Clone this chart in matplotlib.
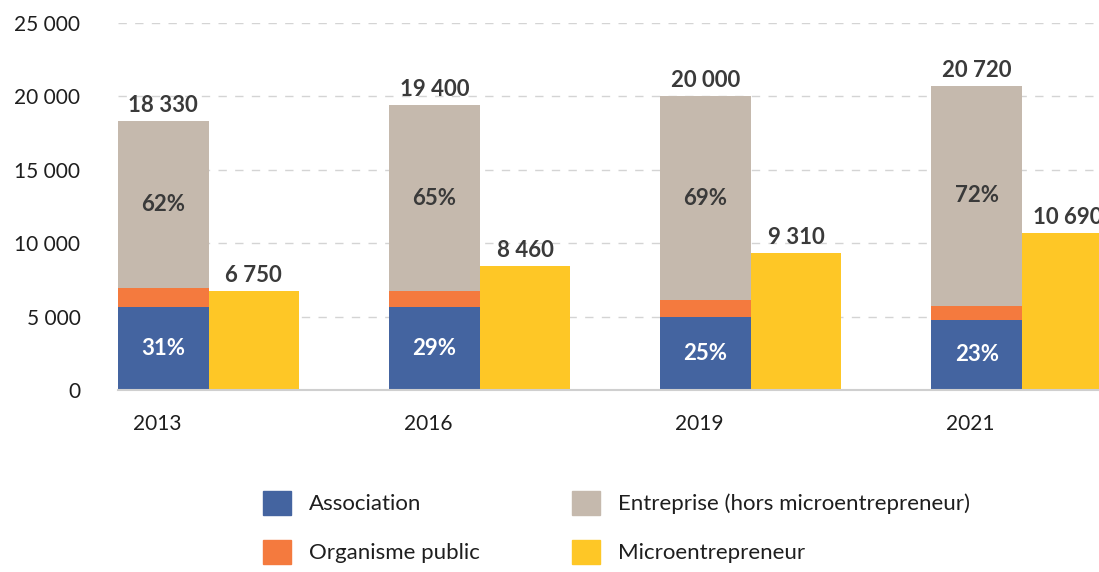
import numpy as np
import matplotlib.pyplot as plt
from matplotlib.patches import Patch

# Données
annees = ['2013', '2016', '2019', '2021']
association = [5680, 5630, 5000, 4770]
organisme_public = [1300, 1100, 1100, 960]
entreprise = [11350, 12670, 13900, 14990]
micro = [6750, 8460, 9310, 10690]
totaux = [18330, 19400, 20000, 20720]
pct_association = [31, 29, 25, 23]
pct_entreprise = [62, 65, 69, 72]

c_asso = '#4464a0'
c_public = '#f47a3e'
c_entr = '#c5b9ad'
c_micro = '#fec726'
c_texte = '#3a3a3a'


def fmt(v):
    return f"{v:,}".replace(",", " ")


plt.rcParams['font.family'] = ['Lato', 'DejaVu Sans']

W, H = 1099, 572
fig = plt.figure(figsize=(W / 100, H / 100), dpi=100)
ax = fig.add_axes([118 / W, 1 - 390 / H, 1 - 118 / W, (390 - 23) / H])

x = np.arange(len(annees))
w = 0.334
xs = x - w / 2
xm = x + w / 2
bas2 = np.array(association) + np.array(organisme_public)

ax.bar(xs, association, w, color=c_asso, zorder=2)
ax.bar(xs, organisme_public, w, bottom=association, color=c_public, zorder=2)
ax.bar(xs, entreprise, w, bottom=bas2, color=c_entr, zorder=2)
ax.bar(xm, micro, w, color=c_micro, zorder=2)

# étiquettes
for i in range(len(annees)):
    ax.annotate(fmt(totaux[i]), (xs[i], totaux[i]), xytext=(0, 6.5),
                textcoords='offset points', ha='center', va='baseline',
                fontsize=16, fontweight='bold', color=c_texte, clip_on=False)
    ax.annotate(fmt(micro[i]), (xm[i], micro[i]), xytext=(0, 6.5),
                textcoords='offset points', ha='center', va='baseline',
                fontsize=16, fontweight='bold', color=c_texte, clip_on=False)
    ax.text(xs[i], association[i] / 2, f"{pct_association[i]}%", ha='center',
            va='center', fontsize=16, fontweight='bold', color='white')
    ax.text(xs[i], bas2[i] + entreprise[i] / 2, f"{pct_entreprise[i]}%",
            ha='center', va='center', fontsize=16, fontweight='bold',
            color=c_texte)

ax.set_xlim(-w, 3.284)
ax.set_ylim(0, 25000)
ax.set_yticks(range(0, 25001, 5000))
ax.set_yticklabels([fmt(v) for v in range(0, 25001, 5000)])
ax.set_xticks(xs - 0.022)
ax.set_xticklabels(annees)
ax.tick_params(axis='y', length=0, pad=27, labelsize=15, colors='#1e1e1e')
ax.tick_params(axis='x', length=0, pad=17, labelsize=15, colors='#1e1e1e')

ax.grid(axis='y', color='#d4d4d4', linestyle=(0, (6, 6)), linewidth=1, zorder=0)
for s in ['top', 'right', 'left']:
    ax.spines[s].set_visible(False)
ax.spines['bottom'].set_color('#cfcfcf')
ax.spines['bottom'].set_linewidth(1.5)

# légende en deux colonnes
leg_kw = dict(loc='upper left', frameon=False, fontsize=16, handlelength=1.26,
              handleheight=1.26, handletextpad=0.8, labelspacing=1.15,
              borderpad=0, borderaxespad=0)
leg1 = fig.legend([Patch(color=c_asso), Patch(color=c_public)],
                  ['Association', 'Organisme public'],
                  bbox_to_anchor=(263 / W, 1 - 491 / H), **leg_kw)
leg2 = fig.legend([Patch(color=c_entr), Patch(color=c_micro)],
                  ['Entreprise (hors microentrepreneur)', 'Microentrepreneur'],
                  bbox_to_anchor=(572 / W, 1 - 491 / H), **leg_kw)
for t in leg1.get_texts() + leg2.get_texts():
    t.set_color('#1e1e1e')

fig.savefig('out.png', dpi=100)
